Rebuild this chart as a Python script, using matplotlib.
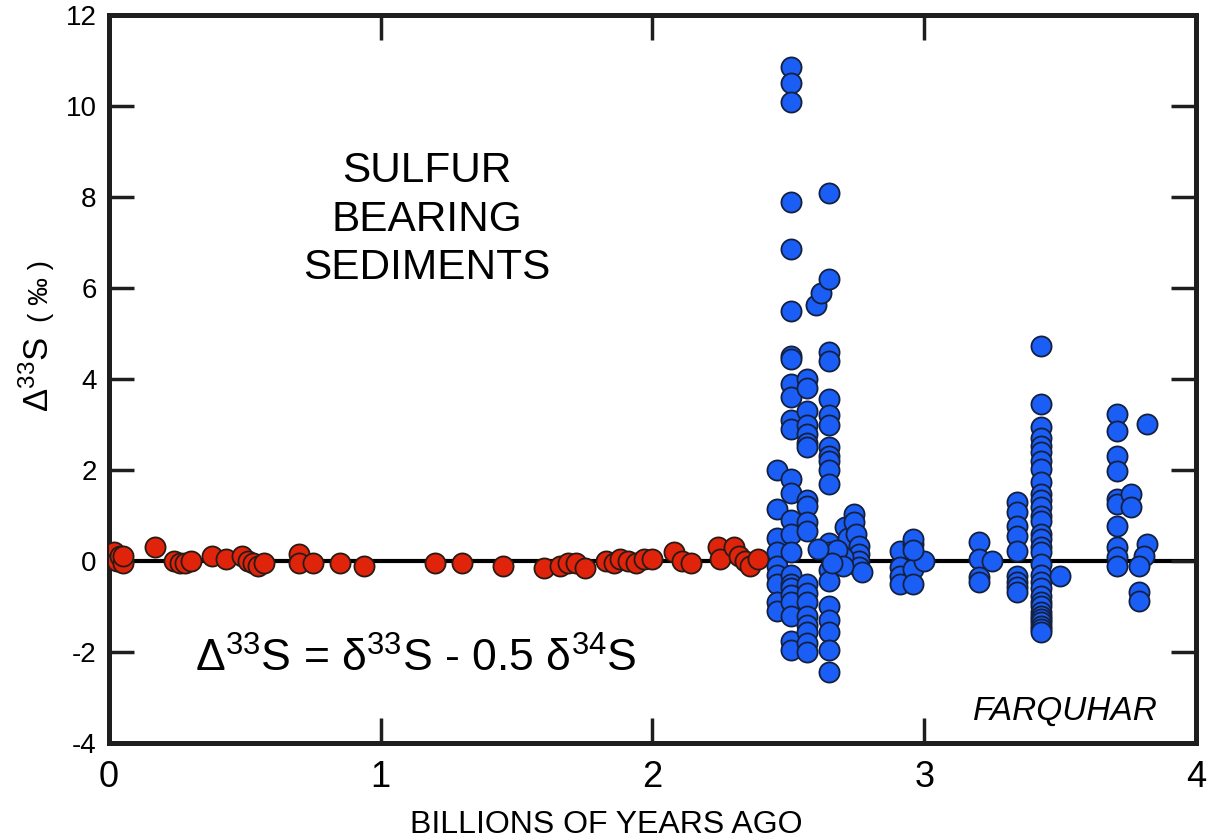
import matplotlib
matplotlib.use("Agg")
import matplotlib.pyplot as plt

plt.rcParams['font.family'] = ['Liberation Sans', 'DejaVu Sans']
plt.rcParams['mathtext.fontset'] = 'custom'
plt.rcParams['mathtext.rm'] = 'Liberation Sans'
plt.rcParams['mathtext.it'] = 'Liberation Sans:italic'

# ---- data: red (younger sediments) ----
red_x = [0.00, 0.01, 0.02, 0.03, 0.04, 0.05, 0.05, 0.17, 0.24, 0.26, 0.28, 0.30,
         0.38, 0.43, 0.49, 0.51, 0.53, 0.55, 0.57, 0.70, 0.70, 0.75, 0.85, 0.94,
         1.20, 1.30, 1.45, 1.60, 1.66, 1.69, 1.72, 1.75, 1.83, 1.86, 1.88, 1.91,
         1.94, 1.97, 2.00, 2.08, 2.11, 2.14, 2.24, 2.25, 2.30, 2.32, 2.34, 2.36, 2.39]
red_y = [0.05, 0.15, 0.20, 0.00, 0.10, -0.05, 0.10, 0.30, 0.00, -0.05, -0.05, 0.00,
         0.10, 0.05, 0.10, 0.00, -0.05, -0.10, -0.05, 0.15, -0.05, -0.05, -0.05, -0.10,
         -0.05, -0.05, -0.10, -0.15, -0.10, -0.05, -0.05, -0.15, 0.00, -0.05, 0.05, 0.00,
         -0.05, 0.05, 0.05, 0.20, 0.00, -0.05, 0.30, 0.05, 0.30, 0.10, 0.00, -0.10, 0.05]

# ---- data: blue (Archean sediments) ----
blue_x = ([2.46] * 9
          + [2.51] * 25
          + [2.57] * 19 + [2.60, 2.62]
          + [2.65] * 21
          + [2.71, 2.72, 2.74, 2.74, 2.75, 2.76, 2.76, 2.76, 2.76, 2.77, 2.70, 2.68, 2.70, 2.66, 2.61]
          + [2.91, 2.91, 2.91, 2.91, 2.96, 2.96, 2.96, 2.96, 3.00, 2.96]
          + [3.20, 3.20, 3.25, 3.20, 3.20]
          + [3.34] * 9
          + [3.43] * 32
          + [3.50]
          + [3.71] * 10 + [3.76, 3.76]
          + [3.82, 3.82, 3.81, 3.79, 3.79, 3.79])
blue_y = ([2.0, 1.15, 0.5, 0.2, -0.1, -0.3, -0.5, -0.9, -1.1]
          + [10.85, 10.5, 10.1, 7.9, 6.85, 5.5, 4.5, 4.45, 3.9, 3.6, 3.1, 2.9, 1.8, 1.5,
             0.9, 0.6, 0.2, -0.3, -0.5, -0.6, -0.75, -0.9, -1.2, -1.75, -1.95]
          + [4.0, 3.8, 3.3, 3.0, 2.8, 2.6, 2.5, 1.35, 1.2, 0.85, 0.65, -0.5, -0.7, -0.9,
             -1.2, -1.4, -1.55, -1.8, -2.0, 5.63, 5.9]
          + [8.1, 6.2, 4.6, 4.4, 3.56, 3.2, 3.0, 2.5, 2.3, 2.2, 2.0, 1.7, 0.4, 0.2,
             -0.2, -0.45, -1.0, -1.3, -1.55, -1.95, -2.45]
          + [0.75, 0.5, 1.03, 0.85, 0.59, 0.33, 0.15, 0.0, -0.13, -0.25, 0.09, 0.25, -0.1, -0.05, 0.26]
          + [0.22, -0.13, -0.33, -0.5, 0.37, -0.18, -0.5, 0.48, 0.0, 0.25]
          + [0.42, 0.05, 0.0, -0.35, -0.46]
          + [1.3, 1.07, 0.77, 0.55, 0.22, -0.33, -0.46, -0.57, -0.68]
          + [4.73, 3.45, 2.94, 2.7, 2.53, 2.4, 2.2, 2.02, 1.73, 1.47, 1.35, 1.19, 1.0, 0.88,
             0.6, 0.48, 0.3, 0.19, -0.07, -0.3, -0.46, -0.6, -0.77, -0.9, -0.99, -1.13,
             -1.2, -1.27, -1.35, -1.43, -1.5, -1.56]
          + [-0.33]
          + [3.23, 2.86, 2.31, 1.98, 1.36, 1.25, 0.77, 0.3, 0.09, -0.1, 1.47, 1.19]
          + [3.01, 0.37, 0.11, -0.1, -0.68, -0.88])

x_ticks = [0, 1, 2, 3, 4]
y_ticks = [-4, -2, 0, 2, 4, 6, 8, 10, 12]

fig = plt.figure(figsize=(12.09, 8.38), dpi=100)
ax = fig.add_axes([0.0902, 0.1134, 0.8990, 0.8686])

ax.axhline(0, color='black', lw=3, zorder=1)
ax.scatter(red_x, red_y, s=210, c='#e0240c', edgecolors='#2a1a14', linewidths=1.3, zorder=3)
ax.scatter(blue_x, blue_y, s=210, c='#1a5ef5', edgecolors='#142040', linewidths=1.3, zorder=4)

ax.set_xlim(0, 4)
ax.set_ylim(-4, 12)

for sp in ax.spines.values():
    sp.set_linewidth(3.6)
    sp.set_color('#1e1e1e')

ax.set_yticks(y_ticks)
ax.set_yticklabels([str(v) for v in y_ticks], fontsize=20)
ax.set_xticks(x_ticks)
ax.set_xticklabels([str(v) for v in x_ticks], fontsize=26)
ax.tick_params(axis='y', direction='in', length=18, width=2.5, right=True, pad=9,
               color='#1e1e1e')
ax.tick_params(axis='x', direction='in', length=18, width=2.5, top=True, pad=12,
               color='#1e1e1e')

fig.text(0.5015, 0.006, 'BILLIONS OF YEARS AGO', fontsize=23, ha='center', va='baseline')

fig.text(0.032, 0.508, 'Δ$^{33}$S', rotation=90, fontsize=25, ha='center', va='bottom')
fig.text(0.034, 0.616, '( ‰ )', rotation=90, fontsize=20, ha='center', va='bottom')

ax.text(1.17, 7.5, 'SULFUR\nBEARING\nSEDIMENTS', fontsize=30.5, ha='center', va='center',
        linespacing=1.27)
ax.text(0.317, -2.15, 'Δ$^{33}$S = δ$^{33}$S - 0.5 δ$^{34}$S', fontsize=32, ha='left',
        va='center')
ax.text(3.86, -3.3, 'FARQUHAR', fontsize=24, style='italic', ha='right', va='center')

fig.savefig('out.png', dpi=100)
